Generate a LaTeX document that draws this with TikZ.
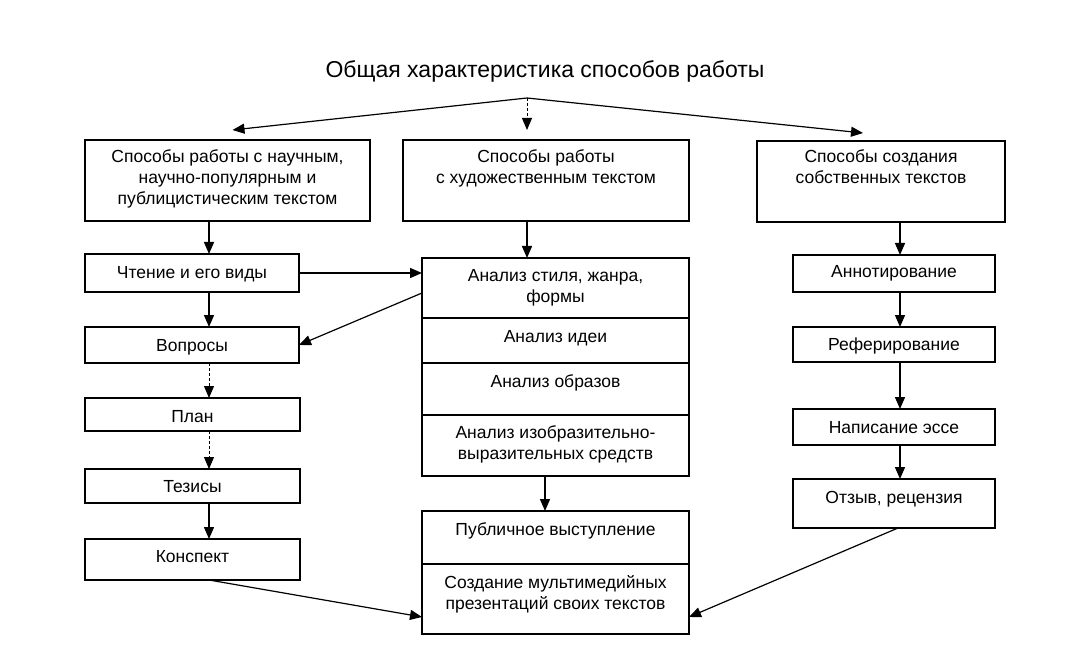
\documentclass[tikz,border=0pt]{standalone}
\usepackage{fontspec}
\setmainfont{Liberation Sans}
\usetikzlibrary{arrows.meta}
\begin{document}
\begin{tikzpicture}[x=1pt,y=-1pt,
  box/.style={draw, line width=1.6pt, inner sep=0pt, outer sep=0pt, anchor=north west},
  tx/.style={font=\fontsize{17.5}{21}\selectfont, align=center, anchor=base, inner sep=0pt},
  arr/.style={-{Triangle[length=12pt,width=10pt]}, line width=1.4pt},
  sarr/.style={arr, line width=1.2pt},
  darr/.style={arr, densely dashed, line width=0.9pt}]
\fill[white] (0,0) rectangle (1074,671);
\useasboundingbox (0,0) rectangle (1074,671);
% title
\node[font=\fontsize{23}{28}\selectfont, anchor=base, inner sep=0pt] (title) at (545,78) {Общая характеристика способов работы};
% helper coordinates
\coordinate (top) at (527,98);
\coordinate (lx) at (209,0);
\coordinate (rx) at (900,0);
\coordinate (cx) at (527,0);
\coordinate (bx) at (545,0);
\coordinate (ox) at (898,0);
% boxes
\node[box, minimum width=285pt, minimum height=81pt] (l1) at (85,140) {};
\node[box, minimum width=286pt, minimum height=81pt] (c1) at (403,140) {};
\node[box, minimum width=248pt, minimum height=81pt] (r1) at (757,141) {};
\node[box, minimum width=214pt, minimum height=38pt] (cht) at (85,254) {};
\node[box, minimum width=214pt, minimum height=36pt] (vop) at (85,327) {};
\node[box, minimum width=215pt, minimum height=33pt] (plan) at (85,398) {};
\node[box, minimum width=215pt, minimum height=34pt] (tez) at (85,469) {};
\node[box, minimum width=215pt, minimum height=41pt] (kon) at (85,539) {};
\node[box, minimum width=267pt, minimum height=60pt] (s1) at (422,258) {};
\node[box, minimum width=267pt, minimum height=45pt] (s2) at (422,318) {};
\node[box, minimum width=267pt, minimum height=52pt] (s3) at (422,363) {};
\node[box, minimum width=267pt, minimum height=61pt] (s4) at (422,415) {};
\node[box, minimum width=267pt, minimum height=53pt] (b1) at (422,511) {};
\node[box, minimum width=267pt, minimum height=70pt] (b2) at (422,564) {};
\node[box, minimum width=202pt, minimum height=37pt] (ann) at (793,255) {};
\node[box, minimum width=202pt, minimum height=35pt] (ref) at (793,327) {};
\node[box, minimum width=202pt, minimum height=36pt] (nap) at (793,409) {};
\node[box, minimum width=202pt, minimum height=49pt] (otz) at (793,479) {};
% texts (base anchor = baseline of last line)
\node[tx] (t-l1) at (l1.center |- 0,205) {Способы работы с научным,\\научно-популярным и\\публицистическим текстом};
\node[tx] (t-c1) at (c1.center |- 0,184) {Способы работы\\с художественным текстом};
\node[tx] (t-r1) at (r1.center |- 0,184) {Способы создания\\собственных текстов};
\node[tx] (t-cht) at (cht.center |- 0,279) {Чтение и его виды};
\node[tx] (t-vop) at (vop.center |- 0,351) {Вопросы};
\node[tx] (t-plan) at (plan.center |- 0,422) {План};
\node[tx] (t-tez) at (tez.center |- 0,492) {Тезисы};
\node[tx] (t-kon) at (kon.center |- 0,562) {Конспект};
\node[tx] (t-s1) at (s1.center |- 0,302) {Анализ стиля, жанра,\\формы};
\node[tx] (t-s2) at (s2.center |- 0,342) {Анализ идеи};
\node[tx] (t-s3) at (s3.center |- 0,387) {Анализ образов};
\node[tx] (t-s4) at (s4.center |- 0,459) {Анализ изобразительно-\\выразительных средств};
\node[tx] (t-b1) at (b1.center |- 0,535) {Публичное выступление};
\node[tx] (t-b2) at (b2.center |- 0,609) {Создание мультимедийных\\презентаций своих текстов};
\node[tx] (t-ann) at (ann.center |- 0,277) {Аннотирование};
\node[tx] (t-ref) at (ref.center |- 0,350) {Реферирование};
\node[tx] (t-nap) at (nap.center |- 0,433) {Написание эссе};
\node[tx] (t-otz) at (otz.center |- 0,503) {Отзыв, рецензия};
% top connectors
\draw[sarr] (top) -- ([shift={(5pt,10pt)}]l1.north);
\draw[darr] (top) -- ([yshift=10pt]top |- c1.north);
\draw[sarr] (top) -- ([shift={(-18pt,8pt)}]r1.north);
% left column
\draw[arr] (l1.south -| lx) -- (cht.north -| lx);
\draw[arr] (cht.south -| lx) -- (vop.north -| lx);
\draw[darr] (vop.south -| lx) -- (plan.north -| lx);
\draw[darr] (plan.south -| lx) -- (tez.north -| lx);
\draw[arr] (tez.south -| lx) -- (kon.north -| lx);
% centre
\draw[arr] (c1.south -| cx) -- (s1.north -| cx);
\draw[arr] (cht.east) -- (cht.east -| s1.west);
\draw[sarr] ([yshift=-5pt]s1.west) -- (vop.east);
\draw[arr] (s4.south -| bx) -- (b1.north -| bx);
\draw[sarr] (kon.south -| lx) -- ([yshift=-18pt]b2.west);
% right column
\draw[arr] (r1.south -| rx) -- (ann.north -| rx);
\draw[arr] (ann.south -| rx) -- (ref.north -| rx);
\draw[arr] (ref.south -| rx) -- (nap.north -| rx);
\draw[arr] (nap.south -| rx) -- (otz.north -| rx);
\draw[sarr] (otz.south -| ox) -- ([yshift=-18pt]b2.east);
\end{tikzpicture}
\end{document}
